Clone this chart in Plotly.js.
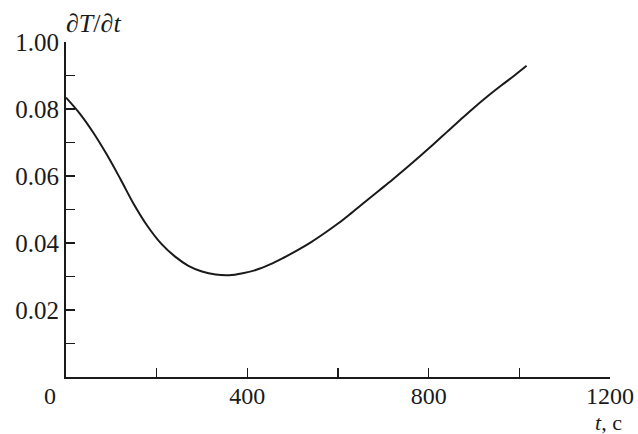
<!DOCTYPE html>
<html>
<head>
<meta charset="utf-8">
<script src="https://cdn.plot.ly/plotly-3.0.1.min.js"></script>
<style>html,body{margin:0;padding:0;background:#fff;}#chart{width:638px;height:434px;}</style>
</head>
<body>
<div id="chart"></div>
<script>
// time, s
const timeS = [0, 30, 60, 90, 120, 150, 180, 210, 240, 270, 300, 330, 360, 390, 420, 450, 480, 510, 540, 570, 600, 630, 660, 690, 720, 750, 780, 810, 840, 870, 900, 930, 960, 990, 1016];
// dT/dt
const dTdt = [0.0834, 0.0787, 0.0730, 0.0664, 0.0591, 0.0515, 0.0450, 0.0398, 0.0360, 0.0332, 0.0315, 0.0306, 0.0304, 0.0310, 0.0320, 0.0336, 0.0356, 0.0378, 0.0402, 0.0429, 0.0458, 0.0490, 0.0523, 0.0556, 0.0589, 0.0623, 0.0658, 0.0694, 0.0731, 0.0768, 0.0804, 0.0838, 0.0870, 0.0901, 0.0929];

const xTickVals = [0, 400, 800, 1200];
const xTickText = ["", "400", "800", "1200"];
const xOriginLabel = "0";
const xMinorVals = [200, 600, 1000];
const yTickVals = [0.02, 0.04, 0.06, 0.08, 0.10];
const yTickText = ["0.02", "0.04", "0.06", "0.08", "1.00"];
const yMinorVals = [0.01, 0.03, 0.05, 0.07, 0.09];

const font = "Liberation Serif, Times New Roman, serif";
const ink = "#1a1a1a";

Plotly.newPlot("chart", [{
  x: timeS, y: dTdt, type: "scatter", mode: "lines",
  line: {color: ink, width: 2, shape: "spline", smoothing: 1},
  hoverinfo: "skip"
}], {
  width: 638, height: 434,
  margin: {l: 66, r: 28, t: 42, b: 57},
  paper_bgcolor: "#fff", plot_bgcolor: "#fff",
  showlegend: false,
  font: {family: font, size: 25, color: ink},
  xaxis: {
    range: [0, 1200], showgrid: false, zeroline: false,
    showline: true, linecolor: ink, linewidth: 2,
    ticks: "inside", ticklen: 9, tickwidth: 1.5, tickcolor: ink,
    tickvals: xTickVals, ticktext: xTickText,
    ticklabelstandoff: -4,
    minor: {tickvals: xMinorVals, ticks: "inside", ticklen: 9, tickwidth: 1.5, tickcolor: ink, showgrid: false},
    tickfont: {family: font, size: 24, color: ink}
  },
  yaxis: {
    range: [0, 0.1], showgrid: false, zeroline: false,
    showline: true, linecolor: ink, linewidth: 2,
    ticks: "inside", ticklen: 9, tickwidth: 1.5, tickcolor: ink,
    tickvals: yTickVals, ticktext: yTickText,
    minor: {tickvals: yMinorVals, ticks: "inside", ticklen: 9, tickwidth: 1.5, tickcolor: ink, showgrid: false},
    tickfont: {family: font, size: 25, color: ink}
  },
  annotations: [
    {xref: "paper", yref: "paper", x: 0, y: 1, xanchor: "left", yanchor: "bottom",
     text: "<i>∂T</i>/<i>∂t</i>", showarrow: false, xshift: -2, yshift: 2,
     font: {family: font, size: 26, color: ink}},
    {xref: "paper", yref: "paper", x: 0, y: 0, xanchor: "center", yanchor: "middle",
     text: xOriginLabel, showarrow: false, xshift: -16, yshift: -19,
     font: {family: font, size: 24, color: ink}},
    {xref: "paper", yref: "paper", x: 1, y: 0, xanchor: "right", yanchor: "middle",
     text: "<i>t</i>, c", showarrow: false, xshift: 14, yshift: -45,
     font: {family: font, size: 22, color: ink}}
  ]
}, {displayModeBar: false, staticPlot: true});
</script>
</body>
</html>
